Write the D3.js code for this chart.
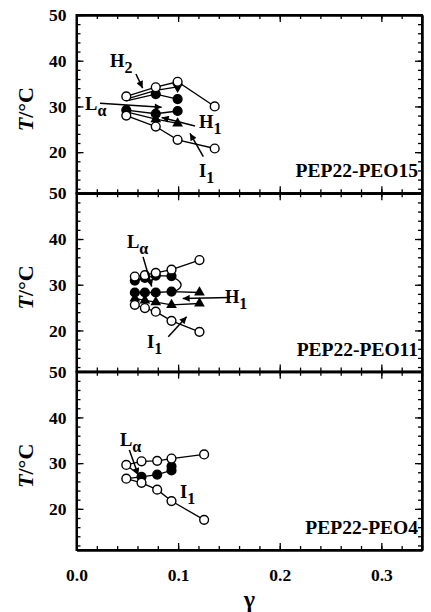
<!DOCTYPE html>
<html><head><meta charset="utf-8">
<script src="https://cdn.jsdelivr.net/npm/d3@7"></script>
<style>body{margin:0;background:#fff}svg{display:block}</style>
</head><body><svg id="c" width="431" height="612"></svg>
<script>
// ---------- DATA ----------
const xTickLabels = ["0.0", "0.1", "0.2", "0.3"];
const xMajor = [0, 0.1, 0.2, 0.3];
const yMajor = [20, 30, 40, 50];
const panelNames = ["PEP22-PEO15", "PEP22-PEO11", "PEP22-PEO4"];

// Panel 1: PEP22-PEO15
const g15 = [0.049, 0.078, 0.0995, 0.136];
const p15_openUpper = [32.2, 34.2, 35.4, 30.0];
const p15_H2 = [31.6, 33.5, 34.3];
const p15_filledA = [31.2, 32.7, 31.6];
const p15_filledB = [29.2, 28.4, 29.0];
const p15_tri = [28.8, 27.2, 26.3];
const p15_openLower = [28.0, 25.6, 22.7, 20.8];

// Panel 2: PEP22-PEO11
const g11 = [0.0574, 0.0673, 0.078, 0.0935, 0.121];
const p11_openUpper = [31.8, 32.1, 32.6, 33.3, 35.4];
const p11_filledA = [30.9, 31.5, 32.0, 31.9];
const p11_filledB = [28.3, 28.3, 28.3, 28.5];
const p11_triA = [28.3];
const p11_triB = [27.0, 26.6, 26.2, 25.6, 25.9];
const p11_openLower = [25.6, 24.9, 24.1, 22.1, 19.7];
const p11_bendG = [0.0935, 0.1035, 0.103, 0.0965];
const p11_bendT = [31.9, 30.6, 29.3, 28.5];

// Panel 3: PEP22-PEO4
const g4 = [0.049, 0.064, 0.0794, 0.0935, 0.1256];
const p4_openUpper = [29.6, 30.4, 30.5, 31.0, 31.9];
const p4_filled = [27.0, 27.5, 28.4];
const p4_filledTop = [29.3];
const p4_openLower = [26.6, 25.7, 24.2, 21.7, 17.6];

// ---------- LAYOUT ----------
const svg = d3.select("#c");
const left = 76.5, right = 422;
const tops = [15, 193.3, 371.7];
const H = 178.3;
const font = "'Liberation Serif','Times New Roman',serif";
const x = d3.scaleLinear().domain([0, 0.34]).range([left, right]);
const ys = tops.map(t => d3.scaleLinear().domain([11, 50]).range([t + H, t]));

const zip = (g, t) => t.map((v, i) => [g[i], v]);

function panel(i) {
  const y = ys[i];
  const gp = svg.append("g");
  const minorX = d3.range(0, 0.341, 0.02);
  const minorY = d3.range(12, 50.1, 2);
  // top (ticks inward = down)
  gp.append("g").attr("transform", `translate(0,${tops[i]})`)
    .call(d3.axisTop(x).tickValues(minorX).tickSizeInner(-4).tickSizeOuter(0).tickFormat(""));
  gp.append("g").attr("transform", `translate(0,${tops[i]})`)
    .call(d3.axisTop(x).tickValues(xMajor).tickSizeInner(-7).tickSizeOuter(0).tickFormat(""));
  // bottom (ticks inward = up)
  gp.append("g").attr("transform", `translate(0,${tops[i] + H})`)
    .call(d3.axisBottom(x).tickValues(minorX).tickSizeInner(-4).tickSizeOuter(0).tickFormat(""));
  gp.append("g").attr("transform", `translate(0,${tops[i] + H})`)
    .call(d3.axisBottom(x).tickValues(xMajor).tickSizeInner(-7).tickSizeOuter(0)
      .tickFormat((d, k) => i === 2 ? xTickLabels[k] : "").tickPadding(19));
  // left
  gp.append("g").attr("transform", `translate(${left},0)`)
    .call(d3.axisLeft(y).tickValues(minorY).tickSizeInner(-4).tickSizeOuter(0).tickFormat(""));
  gp.append("g").attr("transform", `translate(${left},0)`)
    .call(d3.axisLeft(y).tickValues(yMajor).tickSizeInner(-7).tickSizeOuter(0).tickFormat(d3.format("d")).tickPadding(10));
  // right
  gp.append("g").attr("transform", `translate(${right},0)`)
    .call(d3.axisRight(y).tickValues(minorY).tickSizeInner(-4).tickSizeOuter(0).tickFormat(""));
  gp.append("g").attr("transform", `translate(${right},0)`)
    .call(d3.axisRight(y).tickValues(yMajor).tickSizeInner(-7).tickSizeOuter(0).tickFormat(""));
  gp.selectAll(".domain").attr("stroke", "#000").attr("stroke-width", 2);
  gp.selectAll(".tick line").attr("stroke", "#000").attr("stroke-width", 1.3);
  gp.selectAll(".tick text").attr("font-family", font).attr("font-weight", "bold")
    .attr("font-size", 17.5).attr("fill", "#000");
  // frame
  gp.append("rect").attr("x", left).attr("y", tops[i]).attr("width", right - left).attr("height", H)
    .attr("fill", "none").attr("stroke", "#000").attr("stroke-width", 2);

  // y label
  const yl = svg.append("text").attr("transform", `translate(33,${tops[i] + H / 2 + 5}) rotate(-90)`)
    .attr("text-anchor", "middle").attr("font-family", font).attr("font-weight", "bold").attr("font-size", 22);
  yl.append("tspan").attr("font-style", "italic").text("T");
  yl.append("tspan").text("/°C");

  // panel name
  svg.append("text").attr("x", right - 4).attr("y", tops[i] + H - 16)
    .attr("text-anchor", "end").attr("font-family", font).attr("font-weight", "bold")
    .attr("font-size", 19.5).text(panelNames[i]);
}
[0, 1, 2].forEach(panel);

// x axis label
svg.append("text").attr("x", x(0.17)).attr("y", 607).attr("text-anchor", "middle")
  .attr("font-family", font).attr("font-weight", "bold").attr("font-size", 24).text("γ");

// ---------- MARKS ----------
const line = (y) => d3.line().x(d => x(d[0])).y(d => y(d[1]));
function drawLine(i, pts, curve) {
  const l = line(ys[i]);
  if (curve) l.curve(curve);
  svg.append("path").attr("d", l(pts)).attr("fill", "none").attr("stroke", "#000").attr("stroke-width", 1.3);
}
function drawMarks(i, pts, type) {
  const y = ys[i];
  const g = svg.append("g");
  pts.forEach(p => {
    if (type === "open" || type === "filled") {
      g.append("circle").attr("cx", x(p[0])).attr("cy", y(p[1])).attr("r", 4.4)
        .attr("fill", type === "open" ? "#fff" : "#000").attr("stroke", "#000").attr("stroke-width", 1.4);
    } else {
      const sym = d3.symbol().type(d3.symbolTriangle).size(50);
      g.append("path").attr("d", sym())
        .attr("transform", `translate(${x(p[0])},${y(p[1])})` + (type === "down" ? " rotate(180)" : ""))
        .attr("fill", "#000");
    }
  });
}

// Panel 1
const s15 = {
  openUpper: zip(g15, p15_openUpper), H2: zip(g15, p15_H2), fA: zip(g15, p15_filledA),
  fB: zip(g15, p15_filledB), tri: zip(g15, p15_tri), openLower: zip(g15, p15_openLower)
};
drawLine(0, s15.openUpper); drawLine(0, s15.H2); drawLine(0, s15.fA); drawLine(0, s15.fB);
drawLine(0, s15.tri); drawLine(0, s15.openLower);
drawMarks(0, s15.fA.slice(1), "filled"); drawMarks(0, s15.fB, "filled");
drawMarks(0, s15.tri.slice(1), "up"); drawMarks(0, [s15.H2[2]], "down");
drawMarks(0, s15.openUpper, "open"); drawMarks(0, s15.openLower, "open");

// Panel 2
const s11 = {
  openUpper: zip(g11, p11_openUpper), fA: zip(g11, p11_filledA), fB: zip(g11, p11_filledB),
  triA: [[g11[4], p11_triA[0]]], triB: zip(g11, p11_triB), openLower: zip(g11, p11_openLower),
  bend: zip(p11_bendG, p11_bendT)
};
drawLine(1, s11.openUpper); drawLine(1, s11.fA); drawLine(1, s11.fB.concat(s11.triA));
drawLine(1, s11.triB); drawLine(1, s11.openLower); drawLine(1, s11.bend, d3.curveBasis);
drawMarks(1, s11.triA, "up"); drawMarks(1, s11.triB, "up");
drawMarks(1, s11.fA, "filled"); drawMarks(1, s11.fB, "filled");
drawMarks(1, s11.openUpper, "open"); drawMarks(1, s11.openLower, "open");

// Panel 3
const s4 = {
  openUpper: zip(g4, p4_openUpper), openLower: zip(g4, p4_openLower),
  filled: zip(g4.slice(1), p4_filled), top: [[g4[3], p4_filledTop[0]]]
};
drawLine(2, s4.openUpper); drawLine(2, s4.openLower);
drawLine(2, [s4.openLower[0]].concat(s4.filled));
drawLine(2, [s4.openUpper[0], s4.filled[0]]);
drawMarks(2, s4.filled, "filled"); drawMarks(2, s4.top, "filled");
drawMarks(2, s4.openUpper, "open"); drawMarks(2, s4.openLower, "open");

// ---------- ANNOTATIONS (data units) ----------
svg.append("defs").append("marker").attr("id", "ah").attr("viewBox", "0 0 10 10")
  .attr("refX", 10).attr("refY", 5).attr("markerWidth", 9).attr("markerHeight", 7)
  .attr("markerUnits", "userSpaceOnUse").attr("orient", "auto")
  .append("path").attr("d", "M0,0 L10,5 L0,10 Z").attr("fill", "#000");

const arrows = [
  [0, 0.0585, 37.1, 0.0651, 34.0],
  [0, 0.0231, 30.7, 0.0838, 29.8],
  [0, 0.1166, 25.7, 0.0838, 27.6],
  [0, 0.1248, 19.0, 0.1117, 24.1],
  [1, 0.0655, 36.1, 0.0740, 29.6],
  [1, 0.1510, 27.2, 0.1045, 27.0],
  [1, 0.0903, 18.6, 0.1084, 23.0],
  [2, 0.0520, 32.9, 0.0608, 27.4]
];
arrows.forEach(a => {
  const y = ys[a[0]];
  svg.append("line").attr("x1", x(a[1])).attr("y1", y(a[2])).attr("x2", x(a[3])).attr("y2", y(a[4]))
    .attr("stroke", "#000").attr("stroke-width", 1.5).attr("marker-end", "url(#ah)");
});

const labels = [
  [0, 0.033, 38.7, "H", "2"],
  [0, 0.0084, 29.2, "L", "α"],
  [0, 0.1206, 25.3, "H", "1"],
  [0, 0.1206, 14.6, "I", "1"],
  [1, 0.0497, 38.0, "L", "α"],
  [1, 0.1461, 26.0, "H", "1"],
  [1, 0.0694, 16.2, "I", "1"],
  [2, 0.0428, 33.75, "L", "α"],
  [2, 0.1019, 22.4, "I", "1"]
];
labels.forEach(l => {
  const y = ys[l[0]];
  const t = svg.append("text").attr("x", x(l[1])).attr("y", y(l[2]))
    .attr("font-family", font).attr("font-weight", "bold").attr("font-size", 18.5);
  t.append("tspan").text(l[3]);
  t.append("tspan").attr("dy", 6).attr("font-size", 16).text(l[4]);
});
</script></body></html>
